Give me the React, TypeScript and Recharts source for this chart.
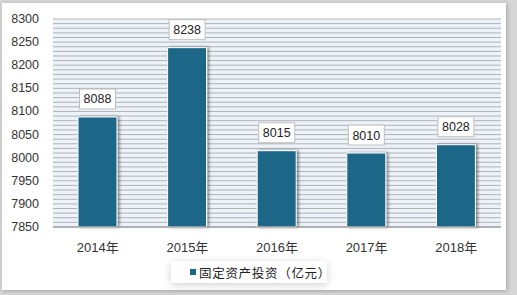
import React from 'react';
import { BarChart, Bar, XAxis, YAxis, CartesianGrid, LabelList } from 'recharts';

const years = ['2014年', '2015年', '2016年', '2017年', '2018年'];
const investment = [8088, 8238, 8015, 8010, 8028];
const yLabels = [7850, 7900, 7950, 8000, 8050, 8100, 8150, 8200, 8250, 8300];
const seriesName = '固定资产投资（亿元）';
// grid lines every 10 units
const gridTicks: number[] = [];
for (let v = 7850; v <= 8300; v += 10) gridTicks.push(v);

const data = years.map((year, i) => ({ year, value: investment[i] }));

const FONT = '"Liberation Sans", Arial, "Noto Sans CJK SC", sans-serif';
const BAR = '#1a6687';

const YTick = (props: any) => {
  const { x, y, payload } = props;
  if (!yLabels.includes(payload.value)) return null;
  return (
    <text x={x} y={y} dy={4} textAnchor="end" fontSize={12.5} fill="#333" fontFamily={FONT}>
      {payload.value}
    </text>
  );
};

const ValueLabel = (props: any) => {
  const { x, y, width, value } = props;
  const cx = x + width / 2;
  const w = 36;
  const h = 20;
  const top = y - 8 - h;
  return (
    <g>
      <rect x={cx - w / 2} y={top} width={w} height={h} fill="#fff" stroke="#bfbfbf" strokeWidth={1} />
      <text x={cx} y={top + 14.5} textAnchor="middle" fontSize={12.5} fill="#222" fontFamily={FONT}>
        {value}
      </text>
    </g>
  );
};

export default function App() {
  return (
    <div style={{ position: 'absolute', left: 0, top: 0, width: 517, height: 295, background: '#d6d6d6' }}>
      <div
        style={{
          position: 'absolute',
          left: 2,
          top: 3,
          width: 504,
          height: 287,
          background: '#fff',
          boxShadow: '1px 1px 4px rgba(0,0,0,0.25)',
        }}
      />
      <div style={{ position: 'absolute', left: 0, top: 0 }}>
        <BarChart
          width={517}
          height={295}
          data={data}
          margin={{ top: 19, right: 16, bottom: 38, left: 0 }}
        >
          <defs>
            <filter id="barShadow" x="-30%" y="-10%" width="160%" height="120%">
              <feDropShadow dx={2} dy={0} stdDeviation={1.8} floodColor="#000" floodOpacity={0.45} />
            </filter>
          </defs>
          <CartesianGrid
            vertical={false}
            stroke="#aeb3b8"
            strokeWidth={1}
            fill="#edf3f8"
          />
          <XAxis
            dataKey="year"
            height={30}
            tickLine={false}
            axisLine={{ stroke: '#8c8c8c' }}
            tickMargin={10}
            tick={{ fontSize: 13, fill: '#333', fontFamily: FONT }}
          />
          <YAxis
            width={53}
            domain={[7850, 8300]}
            ticks={gridTicks}
            interval={0}
            axisLine={false}
            tickLine={false}
            tickSize={0}
            tickMargin={14}
            tick={<YTick />}
          />
          <Bar
            dataKey="value"
            name={seriesName}
            fill={BAR}
            stroke="#fff"
            strokeWidth={1}
            barSize={39}
            filter="url(#barShadow)"
            isAnimationActive={false}
          >
            <LabelList dataKey="value" content={<ValueLabel />} />
          </Bar>
        </BarChart>
      </div>
      <div
        style={{
          position: 'absolute',
          left: 171,
          top: 261,
          width: 156,
          height: 22,
          background: '#fff',
          boxShadow: '0 2px 8px rgba(0,0,0,0.18)',
          display: 'flex',
          alignItems: 'center',
          fontFamily: FONT,
          fontSize: 12.5,
          letterSpacing: 0.7,
          color: '#222',
          boxSizing: 'border-box',
          paddingLeft: 19,
          whiteSpace: 'nowrap',
        }}
      >
        <span
          style={{
            width: 6,
            height: 6,
            flexShrink: 0,
            background: BAR,
            display: 'inline-block',
            marginRight: 3,
          }}
        />
        {seriesName}
      </div>
    </div>
  );
}
